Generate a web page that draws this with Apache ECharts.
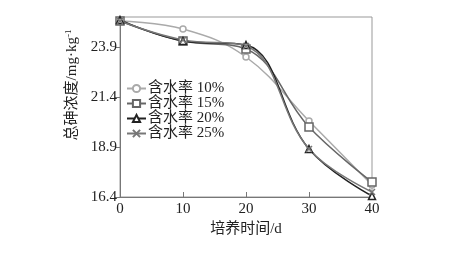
<!DOCTYPE html>
<html><head><meta charset="utf-8">
<script src="https://cdn.jsdelivr.net/npm/echarts@6/dist/echarts.min.js"></script>
<style>html,body{margin:0;padding:0;background:#fff}#c{width:450px;height:253px}</style>
</head><body><div id="c"></div>
<script>
const days = [0, 10, 20, 30, 40];
const s10 = [25.2, 24.8, 23.4, 20.2, 17.0];
const s15 = [25.2, 24.2, 23.8, 19.9, 17.15];
const s20 = [25.25, 24.2, 24.0, 18.8, 16.45];
const s25 = [25.2, 24.25, 23.95, 18.8, 16.65];
const names = ['含水率 10%', '含水率 15%', '含水率 20%', '含水率 25%'];
const yTicks = [16.4, 18.9, 21.4, 23.9];
const font = '"Liberation Serif","Noto Sans CJK SC",serif';
const chart = echarts.init(document.getElementById('c'));
const cross = 'path://M0,0L10,10M10,0L0,10';
function mk(name, data, color, symbol, size) {
  return {
    name, type: 'line', smooth: 0.4, data: days.map((d, i) => [d, data[i]]),
    symbol, symbolSize: size, showSymbol: true,
    lineStyle: { color, width: 1.5 },
    itemStyle: { color: symbol === cross ? color : '#fff', borderColor: color, borderWidth: 1.5 },
    emphasis: { disabled: true }
  };
}
chart.setOption({
  animation: false,
  textStyle: { fontFamily: font },
  grid: { left: 120, right: 78, top: 17, bottom: 56, show: true, borderColor: '#999', borderWidth: 1 },
  legend: {
    orient: 'vertical', left: 121, top: 76, itemGap: 0, itemWidth: 19, itemHeight: 9,
    textStyle: { fontFamily: font, fontSize: 15, color: '#222', padding: [0, 0, 0, -3] },
    data: names
  },
  xAxis: {
    type: 'value', min: 0, max: 40, interval: 10,
    name: '培养时间/d', nameLocation: 'middle', nameGap: 23,
    nameTextStyle: { fontFamily: font, fontSize: 15, color: '#222' },
    axisLine: { lineStyle: { color: '#777', width: 1 } },
    axisTick: { inside: true, length: 5, lineStyle: { color: '#777' } },
    axisLabel: { fontFamily: font, fontSize: 15, color: '#222', margin: 5 },
    splitLine: { show: false }
  },
  yAxis: {
    type: 'value', min: 16.4, max: 25.4, interval: 2.5,
    name: '总砷浓度/mg·kg{sup|-1}', nameLocation: 'middle', nameGap: 31, nameRotate: 90,
    nameTextStyle: { fontFamily: font, fontSize: 15, color: '#222', padding: [0, 0, 0, 44],
      rich: { sup: { fontSize: 9, verticalAlign: 'top', fontFamily: font, color: '#222', padding: [0, 0, 7, 0] } } },
    axisLine: { show: true, lineStyle: { color: '#777', width: 1 } },
    axisTick: { show: true, length: 5, lineStyle: { color: '#777' } },
    axisLabel: { fontFamily: font, fontSize: 15, color: '#222', margin: 3, showMaxLabel: false,
      formatter: v => { const t = yTicks.find(x => Math.abs(x - v) < 1e-6); return t !== undefined ? t.toFixed(1) : ''; } },
    splitLine: { show: false }
  },
  series: [
    mk(names[0], s10, '#aaa', 'circle', 6),
    mk(names[1], s15, '#666', 'rect', 8),
    mk(names[2], s20, '#222', 'triangle', 7),
    mk(names[3], s25, '#777', cross, 6)
  ]
});
</script></body></html>
